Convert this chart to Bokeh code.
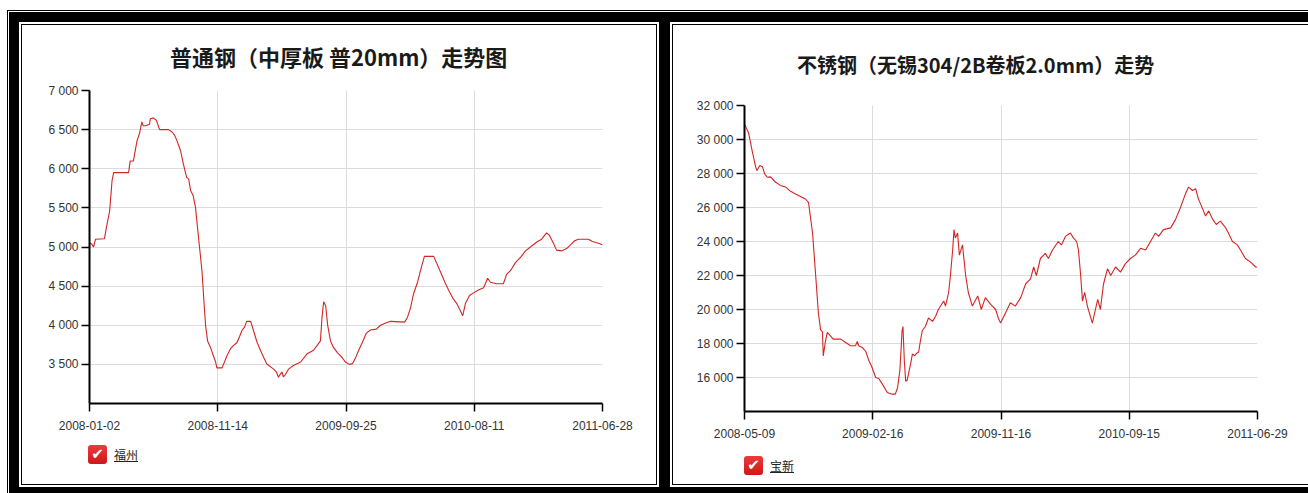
from datetime import datetime, timedelta

from bokeh.embed import file_html
from bokeh.layouts import column, row
from bokeh.models import Div, FixedTicker, Range1d
from bokeh.plotting import figure
from bokeh.resources import INLINE

# ---- 普通钢 (中厚板) 福州 ----
plain_title = "普通钢（中厚板 普20mm）走势图"
plain_series = "福州"
plain_start = "2008-01-02"
plain_end = "2011-06-28"
plain_day = [
    0, 5, 10, 15, 37, 42, 50, 56, 60, 97, 101, 109, 112, 118, 124, 130, 133, 139,
    149, 151, 158, 166, 174, 196, 205, 211, 217, 226, 233, 241, 246, 251, 257, 263,
    267, 273, 279, 284, 288, 293, 300, 308, 313, 316, 329, 335, 341, 350, 357, 366,
    372, 378, 385, 390, 400, 407, 416, 428, 440, 457, 464, 469, 474, 478, 481, 486,
    494, 506, 524, 540, 556, 566, 573, 577, 581, 586, 591, 598, 605, 615, 625, 635,
    645, 653, 660, 668, 677, 687, 697, 712, 722, 735, 747, 782, 789, 797, 804, 814,
    824, 831, 854, 861, 871, 881, 891, 901, 911, 921, 926, 933, 943, 955, 965, 978,
    988, 995, 1010, 1027, 1035, 1045, 1057, 1070, 1082, 1094, 1109, 1122, 1134, 1141,
    1151, 1159, 1171, 1184, 1194, 1204, 1213, 1238, 1248, 1261, 1273,
]
plain_price = [
    5050, 5040, 5000, 5100, 5105, 5250, 5460, 5850, 5950, 5950, 6100, 6100, 6190, 6360,
    6450, 6600, 6550, 6550, 6570, 6640, 6650, 6620, 6500, 6500, 6470, 6430, 6360, 6230,
    6060, 5890, 5870, 5720, 5660, 5510, 5300, 5000, 4700, 4300, 4000, 3800, 3720, 3600,
    3530, 3455, 3455, 3530, 3610, 3700, 3740, 3780, 3850, 3930, 3980, 4050, 4050, 3930,
    3780, 3635, 3505, 3440, 3400, 3335, 3380, 3400, 3340, 3370, 3440, 3485, 3530, 3635,
    3680, 3750, 3800, 4100, 4300, 4250, 4000, 3800, 3720, 3650, 3600, 3530, 3500, 3510,
    3580, 3680, 3780, 3900, 3940, 3950, 4000, 4030, 4050, 4040, 4100, 4230, 4400, 4550,
    4750, 4880, 4880, 4800, 4680, 4560, 4450, 4350, 4280, 4180, 4120, 4280, 4380, 4420,
    4450, 4480, 4600, 4550, 4530, 4530, 4650, 4700, 4800, 4870, 4950, 5000, 5060, 5100,
    5180, 5150, 5050, 4960, 4950, 4980, 5030, 5080, 5100, 5100, 5070, 5050, 5030,
]
# date labels shown at the quarter points of the series
plain_date_ticks = ["2008-01-02", "2008-11-14", "2009-09-25", "2010-08-11", "2011-06-28"]
plain_y_min, plain_y_max = 3000, 7000
plain_y_ticks = [3500, 4000, 4500, 5000, 5500, 6000, 6500, 7000]
plain_y_labels = ["3 500", "4 000", "4 500", "5 000", "5 500", "6 000", "6 500", "7 000"]

# ---- 不锈钢 (无锡 304/2B 卷板 2.0mm) 宝新 ----
stain_title = "不锈钢（无锡304/2B卷板2.0mm）走势"
stain_series = "宝新"
stain_start = "2008-05-09"
stain_end = "2011-06-29"
stain_day = [
    0, 9, 17, 25, 28, 34, 40, 45, 51, 58, 69, 80, 92, 103, 114, 125, 136, 143, 147,
    152, 159, 165, 170, 174, 176, 181, 185, 192, 198, 215, 226, 237, 248, 252, 255,
    263, 271, 278, 285, 293, 300, 308, 319, 330, 337, 342, 347, 350, 352, 354, 357,
    360, 363, 371, 375, 380, 384, 389, 393, 397, 404, 411, 420, 427, 433, 445, 449,
    456, 460, 465, 468, 471, 476, 480, 487, 494, 500, 509, 521, 529, 538, 550, 561,
    567, 572, 583, 594, 605, 617, 628, 639, 646, 652, 661, 672, 679, 688, 701, 708,
    717, 728, 735, 742, 746, 751, 755, 760, 766, 777, 784, 789, 795, 802, 811, 818,
    829, 840, 851, 862, 873, 885, 896, 907, 918, 925, 936, 952, 963, 974, 985, 992,
    1001, 1008, 1014, 1019, 1030, 1037, 1046, 1054, 1063, 1075, 1081, 1090, 1101,
    1108, 1119, 1130, 1142, 1146,
]
stain_price = [
    30900, 30400, 29350, 28370, 28170, 28470, 28400, 27980, 27780, 27800, 27500, 27300,
    27200, 26950, 26800, 26650, 26500, 26300, 25500, 24500, 22000, 19800, 18800, 18700,
    17275, 18160, 18650, 18450, 18260, 18260, 18060, 17870, 17870, 18120, 17870, 17770,
    17530, 16980, 16590, 16000, 15940, 15610, 15120, 15020, 15020, 15410, 16390, 17770,
    18750, 19000, 17000, 15800, 15800, 16790, 17380, 17280, 17410, 17500, 18160, 18750,
    19000, 19500, 19300, 19600, 20000, 20500, 20200, 21000, 22000, 23500, 24700, 24200,
    24500, 23200, 23800, 22000, 21000, 20200, 20800, 20000, 20700, 20300, 20000, 19500,
    19200, 19800, 20400, 20200, 20700, 21500, 21800, 22500, 22000, 23000, 23300, 23000,
    23500, 24000, 23800, 24300, 24500, 24200, 24000, 23500, 22000, 20500, 21000, 20200,
    19200, 20000, 20600, 20000, 21500, 22400, 22000, 22500, 22200, 22700, 23000, 23200,
    23600, 23500, 24000, 24500, 24300, 24700, 24800, 25300, 26000, 26800, 27200, 27000,
    27100, 26500, 26200, 25500, 25800, 25300, 25000, 25200, 24800, 24500, 24000, 23800,
    23500, 23000, 22800, 22500, 22500,
]
stain_date_ticks = ["2008-05-09", "2009-02-16", "2009-11-16", "2010-09-15", "2011-06-29"]
stain_y_min, stain_y_max = 14000, 32000
stain_y_ticks = [16000, 18000, 20000, 22000, 24000, 26000, 28000, 30000, 32000]
stain_y_labels = ["16 000", "18 000", "20 000", "22 000", "24 000",
                  "26 000", "28 000", "30 000", "32 000"]

LINE_RED = "#d42424"
GRID = "#dcdcdc"
TICK_FONT = "Liberation Sans"
TITLE_FONT = "Noto Sans CJK SC"


def to_dt(s):
    return datetime.strptime(s, "%Y-%m-%d")


def to_ms(dt):
    return int(round((dt - datetime(1970, 1, 1)).total_seconds() * 1000.0))


def build_panel(title, series, start, end, days, prices, date_ticks, y_min, y_max,
                y_ticks, y_labels, width, height, borders, title_size, title_left,
                title_top, title_height, legend_height, legend_left, legend_top):
    b_left, b_right, b_top, b_bottom = borders
    t0, t1 = to_dt(start), to_dt(end)
    xs = [t0 + timedelta(days=d) for d in days]

    # title strip above the chart
    title_div = Div(
        text=(
            f'<div style="padding-left:{title_left}px;padding-top:{title_top}px;'
            f'white-space:nowrap;font-family:\'{TITLE_FONT}\';font-weight:bold;'
            f'font-size:{title_size}px;line-height:{title_size}px;color:#1a1a1a;">'
            f'{title}</div>'
        ),
        width=width, height=title_height, margin=(0, 0, 0, 0),
    )

    p = figure(
        width=width, height=height - title_height, x_axis_type="datetime",
        x_range=Range1d(t0, t1),
        y_range=Range1d(y_min, y_max),
        output_backend="svg", toolbar_location=None,
        min_border_left=b_left, min_border_right=b_right,
        min_border_top=b_top - title_height, min_border_bottom=b_bottom,
        margin=(0, 0, 0, 0),
    )
    p.outline_line_color = None
    p.background_fill_color = "white"
    p.border_fill_color = "white"

    p.line(xs, prices, line_color=LINE_RED, line_width=1.1)

    # x axis: date labels at evenly spaced points along the series
    n = len(date_ticks) - 1
    tick_ms = [to_ms(t0 + (t1 - t0) * k / n) for k in range(n + 1)]
    p.xaxis.ticker = FixedTicker(ticks=tick_ms)
    p.xaxis.major_label_overrides = {t: lab for t, lab in zip(tick_ms, date_ticks)}

    # y axis: fixed ticks with space-grouped labels
    p.yaxis.ticker = FixedTicker(ticks=y_ticks)
    p.yaxis.major_label_overrides = {v: lab for v, lab in zip(y_ticks, y_labels)}

    for ax in (p.xaxis, p.yaxis):
        ax.axis_line_color = "black"
        ax.axis_line_width = 2
        ax.major_tick_line_color = "black"
        ax.major_tick_line_width = 1.5
        ax.major_tick_in = 0
        ax.major_tick_out = 8
        ax.minor_tick_in = 0
        ax.minor_tick_out = 0
        ax.major_label_text_font = TICK_FONT
        ax.major_label_text_font_size = "12px"
        ax.major_label_text_color = "#333333"
    p.xaxis.major_label_standoff = 9
    p.yaxis.major_label_standoff = 3

    p.xgrid.grid_line_color = GRID
    p.ygrid.grid_line_color = GRID
    p.xgrid.grid_line_width = 1
    p.ygrid.grid_line_width = 1

    legend_html = (
        f'<div style="display:flex;align-items:center;padding-left:{legend_left}px;'
        f'padding-top:{legend_top}px;">'
        '<span style="display:inline-block;width:19px;height:19px;border-radius:3px;'
        'background:linear-gradient(#ee3a3a,#cc1818);color:#fff;text-align:center;'
        'font-family:\'DejaVu Sans\';font-weight:bold;font-size:15px;line-height:19px;">'
        '&#10004;</span>'
        f'<span style="margin-left:7px;font-family:\'Noto Sans CJK SC\';font-size:12px;'
        f'color:#222;text-decoration:underline;">{series}</span></div>'
    )
    legend = Div(text=legend_html, width=width, height=legend_height,
                 margin=(0, 0, 0, 0))

    return title_div, p, legend


parts1 = build_panel(
    plain_title, plain_series, plain_start, plain_end, plain_day, plain_price,
    plain_date_ticks, plain_y_min, plain_y_max, plain_y_ticks, plain_y_labels,
    width=634, height=411, borders=(67, 54, 65, 33), title_size=22,
    title_left=148, title_top=20, title_height=50,
    legend_height=48, legend_left=66, legend_top=9,
)
parts2 = build_panel(
    stain_title, stain_series, stain_start, stain_end, stain_day, stain_price,
    stain_date_ticks, stain_y_min, stain_y_max, stain_y_ticks, stain_y_labels,
    width=635, height=420, borders=(71, 51, 80, 34), title_size=20,
    title_left=124, title_top=30, title_height=60,
    legend_height=39, legend_left=71, legend_top=11,
)

panel_style = {
    "background-color": "white",
    "box-shadow": "0 0 0 1px #000, 0 0 0 3px #fff",
}
panel1 = column(*parts1, margin=(13, 0, 9, 13), styles=panel_style)
panel2 = column(*parts2, margin=(13, 0, 9, 17), styles=panel_style)

page = row(
    panel1, panel2, margin=(12, 0, 0, 9),
    styles={
        "background-color": "#000",
        "outline": "1px solid #000",
        "outline-offset": "1px",
    },
)

with open("out.html", "w") as f:
    f.write(file_html(page, INLINE, title="钢材价格走势"))
